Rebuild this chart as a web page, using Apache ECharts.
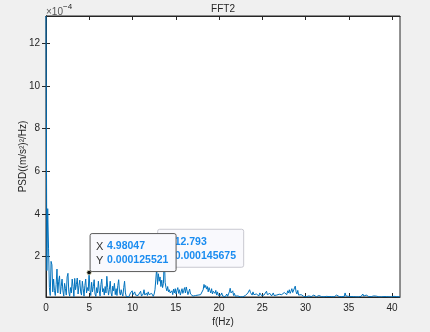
<!DOCTYPE html>
<html><head><meta charset="utf-8">
<script src="https://cdn.jsdelivr.net/npm/echarts@6/dist/echarts.min.js"></script>
<style>html,body{margin:0;padding:0;background:#f0f0f0}#c{width:430px;height:332px}</style>
</head><body><div id="c"></div><script>
// Sampling: fs = 100 Hz, N = 1024 -> frequency step 0.09765625 Hz
const sampleRate = 100;
const fftLength = 1024;
// PSD values in units of 1e-4 (m/s^2)^2/Hz
const psd = [
13.28,1.35,4.25,2.40,0.55,0.18,1.78,1.62,0.35,0.95,
0.42,0.18,0.70,1.42,0.30,0.85,1.10,0.25,0.60,0.95,
0.40,0.15,0.75,0.50,0.20,1.05,1.22,0.35,0.15,0.55,
0.30,0.95,0.60,0.13,0.98,0.45,0.70,1.00,0.25,0.65,
0.90,0.35,0.20,0.85,0.50,0.15,0.65,0.95,0.30,0.55,
0.40,1.25521,0.45,0.18,0.80,0.35,0.60,0.92,0.25,0.14,
0.55,0.30,0.85,0.40,0.16,0.70,0.95,0.35,0.50,0.20,
0.60,0.30,1.08,0.55,0.20,0.45,0.85,0.30,0.15,0.62,
0.40,0.75,0.22,0.50,0.18,0.65,0.92,0.35,0.20,0.45,
0.25,0.15,0.55,0.85,0.30,0.13,0.20,0.15,0.12,0.18,
0.30,0.25,0.40,0.22,0.15,0.35,0.20,0.13,0.28,0.18,
0.14,0.22,0.38,0.15,0.12,0.25,0.45,0.20,0.14,0.30,
0.18,0.35,0.22,0.13,0.16,0.28,0.20,0.14,0.25,0.45,
0.95,1.45675,0.70,1.20,0.85,1.05,0.60,0.90,0.55,0.75,
2.05,0.80,0.55,0.40,0.60,0.35,0.45,0.30,0.25,0.40,
0.22,0.48,0.30,0.50,0.25,0.42,0.55,0.28,0.45,0.20,
0.35,0.50,0.28,0.42,0.55,0.30,0.58,0.40,0.22,0.35,
0.48,0.25,0.20,0.30,0.15,0.22,0.13,0.18,0.25,0.15,
0.20,0.14,0.18,0.22,0.16,0.30,0.45,0.70,0.55,0.65,
0.48,0.60,0.35,0.55,0.42,0.30,0.50,0.25,0.38,0.45,
0.28,0.42,0.20,0.35,0.18,0.25,0.14,0.20,0.30,0.16,
0.22,0.15,0.12,0.18,0.25,0.14,0.20,0.35,0.52,0.30,
0.25,0.40,0.18,0.28,0.15,0.20,0.13,0.16,0.12,0.14,
0.12,0.13,0.15,0.12,0.14,0.13,0.18,0.22,0.16,0.30,
0.25,0.45,0.32,0.28,0.20,0.35,0.22,0.30,0.18,0.25,
0.20,0.28,0.16,0.30,0.22,0.18,0.26,0.15,0.20,0.24,
0.18,0.38,0.22,0.26,0.15,0.28,0.20,0.16,0.25,0.30,
0.18,0.22,0.15,0.20,0.28,0.16,0.24,0.30,0.18,0.22,
0.26,0.20,0.32,0.25,0.35,0.22,0.40,0.30,0.45,0.28,
0.38,0.50,0.32,0.40,0.30,0.62,0.35,0.25,0.42,0.20,
0.25,0.18,0.22,0.15,0.13,0.14,0.12,0.13,0.12,0.14,
0.13,0.16,0.12,0.14,0.13,0.12,0.15,0.20,0.14,0.13,
0.12,0.14,0.13,0.18,0.14,0.12,0.13,0.12,0.14,0.12,
0.13,0.12,0.14,0.13,0.12,0.13,0.12,0.14,0.13,0.12,
0.13,0.12,0.15,0.14,0.20,0.28,0.16,0.13,0.12,0.14,
0.13,0.18,0.12,0.14,0.30,0.16,0.13,0.12,0.14,0.13,
0.12,0.13,0.12,0.14,0.13,0.12,0.13,0.12,0.14,0.13,
0.12,0.13,0.12,0.14,0.18,0.25,0.15,0.13,0.12,0.20,
0.14,0.12,0.13,0.12,0.14,0.13,0.12,0.13,0.16,0.14,
0.22,0.15,0.12,0.13,0.12,0.14,0.13,0.12,0.13,0.12,
0.13,0.12,0.14,0.13,0.12,0.13,0.12,0.14,0.13,0.12,
0.13,0.12,0.14,0.13,0.12,0.13,0.12,0.13,0.12,0.11
];
const xTicks = [0,5,10,15,20,25,30,35,40];
const yTicks = [2,4,6,8,10,12];
const datatipIdx = [131, 51]; // drawn back to front
const titleText = 'FFT2';
const xName = 'f(Hz)';
const yName = 'PSD((m/s²)²/Hz)';

const df = sampleRate / fftLength;
const freqs = psd.map((_, i) => i * df);
const seriesData = psd.map((v, i) => [freqs[i], v]);
const xMax = freqs[freqs.length - 1];
const yMin = Math.min(...psd), yMax = Math.max(...psd);

const FONT = 'Liberation Sans, Arial, sans-serif';
const AX = '#262626';
const chart = echarts.init(document.getElementById('c'), null, {renderer: 'canvas'});

function axisCommon(show, ticks) {
  return {
    axisLine: {show: true, lineStyle: {color: AX, width: 1}},
    axisTick: {show: true, inside: true, length: 4, customValues: ticks, lineStyle: {color: AX}},
    axisLabel: {show: show, customValues: ticks, color: AX, fontSize: 10, fontFamily: FONT},
    splitLine: {show: false}
  };
}

chart.setOption({
  animation: false,
  backgroundColor: '#f0f0f0',
  grid: {left: 46, right: 30, top: 16, bottom: 35, show: true, backgroundColor: '#ffffff', borderColor: AX, borderWidth: 1},
  xAxis: [
    Object.assign({type: 'value', min: 0, max: xMax, position: 'bottom',
      name: xName, nameLocation: 'middle', nameGap: 20, nameMoveOverlap: false,
      nameTextStyle: {color: AX, fontSize: 10, fontFamily: FONT}}, axisCommon(true, xTicks),
      {axisLabel: {show: true, customValues: xTicks, color: AX, fontSize: 10, fontFamily: FONT, margin: 6}}),
    Object.assign({type: 'value', min: 0, max: xMax, position: 'top'}, axisCommon(false, xTicks))
  ],
  yAxis: [
    Object.assign({type: 'value', min: yMin, max: yMax, position: 'left',
      name: yName, nameLocation: 'middle', nameGap: 18, nameMoveOverlap: false,
      nameTextStyle: {color: AX, fontSize: 10, fontFamily: FONT}}, axisCommon(true, yTicks),
      {axisLabel: {show: true, customValues: yTicks, color: AX, fontSize: 10, fontFamily: FONT, margin: 6}}),
    Object.assign({type: 'value', min: yMin, max: yMax, position: 'right'}, axisCommon(false, yTicks))
  ],
  title: {text: titleText, left: 223, top: 4, padding: 0, textAlign: 'center',
    textStyle: {color: AX, fontSize: 10, fontWeight: 'normal', fontFamily: FONT}},
  series: [{
    type: 'line', data: seriesData, showSymbol: false, symbol: 'none',
    lineStyle: {color: '#0072BD', width: 1}, clip: true, z: 2
  }]
});

function fmt(v) { return String(parseFloat(v.toPrecision(6))); }

const graphics = [
  {type: 'text', left: 46, top: 7, style: {text: '×10', fill: '#555', font: '10px ' + FONT}, z: 10},
  {type: 'text', left: 63, top: 3, style: {text: '−4', fill: AX, font: '8px ' + FONT}, z: 10}
];
datatipIdx.forEach((idx, k) => {
  const p = chart.convertToPixel({xAxisIndex: 0, yAxisIndex: 0}, [freqs[idx], psd[idx]]);
  const front = k === datatipIdx.length - 1;
  const z = 20 + k * 5;
  graphics.push({type: 'circle', shape: {cx: p[0], cy: p[1], r: 2.3}, style: {fill: '#111', stroke: '#e8e4c0', lineWidth: 0.8}, z: z});
  graphics.push({type: 'rect', shape: {x: p[0] + 1, y: p[1] - 39, width: 86, height: 38, r: 2},
    style: {fill: '#f9f9fd', stroke: front ? '#5a5a5a' : '#c8c8d0', lineWidth: 1}, z: z + 1});
  graphics.push({type: 'text', x: p[0] + 7, y: p[1] - 26, style: {text: 'X', fill: '#333', font: '11px ' + FONT, verticalAlign: 'middle'}, z: z + 2});
  graphics.push({type: 'text', x: p[0] + 7, y: p[1] - 12, style: {text: 'Y', fill: '#333', font: '11px ' + FONT, verticalAlign: 'middle'}, z: z + 2});
  graphics.push({type: 'text', x: p[0] + 18, y: p[1] - 26, style: {text: fmt(freqs[idx]), fill: '#1a8cf0', font: 'bold 10.5px ' + FONT, verticalAlign: 'middle'}, z: z + 2});
  graphics.push({type: 'text', x: p[0] + 18, y: p[1] - 12, style: {text: fmt(psd[idx] * 1e-4), fill: '#1a8cf0', font: 'bold 10.5px ' + FONT, verticalAlign: 'middle'}, z: z + 2});
});
chart.setOption({graphic: graphics});
</script></body></html>
